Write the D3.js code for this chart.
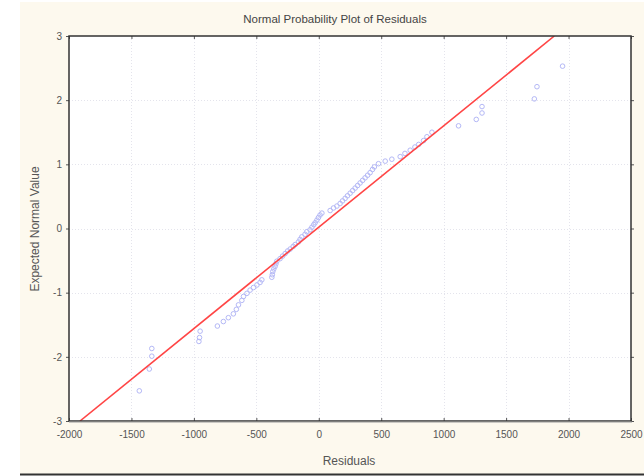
<!DOCTYPE html>
<html><head><meta charset="utf-8">
<script src="https://cdn.jsdelivr.net/npm/d3@7"></script>
<style>body{margin:0;background:#fff;}svg{display:block;}</style>
</head><body>
<svg id="c" width="644" height="476"></svg>
<script>
const residuals = [-1437,-1357,-1337,-1337,-960,-955,-950,-812,-764,-724,-684,-660,-643,-616,-603,-575,-550,-523,-495,-470,-456,-376,-372,-368,-360,-350,-343,-336,-310,-290,-269,-249,-229,-205,-189,-163,-150,-136,-110,-96,-70,-55,-40,-29,-15,-3,10,25,91,118,145,171,190,211,230,251,271,291,311,331,351,371,391,411,430,445,478,532,585,652,690,732,770,800,839,866,906,1119,1261,1307,1307,1726,1747,1952];
const expected = [-2.53,-2.19,-1.99,-1.87,-1.76,-1.70,-1.60,-1.52,-1.45,-1.39,-1.33,-1.26,-1.19,-1.12,-1.06,-1.01,-0.96,-0.92,-0.88,-0.84,-0.80,-0.76,-0.72,-0.67,-0.63,-0.59,-0.55,-0.51,-0.47,-0.43,-0.39,-0.35,-0.32,-0.28,-0.25,-0.21,-0.17,-0.13,-0.09,-0.05,-0.02,0.02,0.06,0.09,0.13,0.17,0.21,0.24,0.28,0.32,0.35,0.39,0.43,0.47,0.51,0.55,0.59,0.63,0.67,0.71,0.75,0.79,0.83,0.87,0.92,0.96,1.01,1.05,1.08,1.12,1.17,1.22,1.27,1.31,1.37,1.43,1.50,1.60,1.70,1.80,1.90,2.02,2.21,2.53];
const fitX = [-1912, 1886];
const fitY = [-3, 3];
const xTicks = [-2000,-1500,-1000,-500,0,500,1000,1500,2000,2500];
const yTicks = [-3,-2,-1,0,1,2,3];
const title = "Normal Probability Plot of Residuals";
const xLabel = "Residuals";
const yLabel = "Expected Normal Value";

const svg = d3.select("#c");
const L = 69, R = 631, T = 36, B = 421;
const font = "Liberation Sans, Arial, sans-serif";

// background panel
svg.append("rect").attr("x",20).attr("y",2).attr("width",624).attr("height",472).attr("fill","#fdf9ee");
svg.append("line").attr("x1",20).attr("x2",644).attr("y1",474.5).attr("y2",474.5).attr("stroke","#333").attr("stroke-width",2);

const x = d3.scaleLinear().domain([-2000,2500]).range([L,R]);
const y = d3.scaleLinear().domain([-3,3]).range([B,T]);

svg.append("rect").attr("x",L).attr("y",T).attr("width",R-L).attr("height",B-T).attr("fill","#fff");

// grid
const g = svg.append("g");
g.selectAll(".gx").data(xTicks.slice(1,-1)).join("line")
  .attr("x1",d=>Math.round(x(d))+0.5).attr("x2",d=>Math.round(x(d))+0.5).attr("y1",T).attr("y2",B)
  .attr("stroke","#e4e4ec").attr("stroke-dasharray","1,2").attr("stroke-width",1);
g.selectAll(".gy").data(yTicks.slice(1,-1)).join("line")
  .attr("y1",d=>Math.round(y(d))+0.5).attr("y2",d=>Math.round(y(d))+0.5).attr("x1",L).attr("x2",R)
  .attr("stroke","#e4e4ec").attr("stroke-dasharray","1,2").attr("stroke-width",1);

// axes using d3 axis generators
const fmt = d => String(d);
const ax = svg.append("g").attr("transform",`translate(0,${B})`)
  .call(d3.axisBottom(x).tickValues(xTicks).tickSize(-3).tickPadding(10).tickFormat(fmt));
const axT = svg.append("g").attr("transform",`translate(0,${T})`)
  .call(d3.axisTop(x).tickValues(xTicks).tickSize(-3).tickFormat(""));
const ay = svg.append("g").attr("transform",`translate(${L},0)`)
  .call(d3.axisLeft(y).tickValues(yTicks).tickSize(3).tickPadding(4).tickFormat(fmt));
const ayR = svg.append("g").attr("transform",`translate(${R},0)`)
  .call(d3.axisRight(y).tickValues(yTicks).tickSize(3).tickFormat(""));
[ax,axT,ay,ayR].forEach(a=>{
  a.select(".domain").remove();
  a.selectAll(".tick line").attr("stroke","#555");
  a.selectAll("text").attr("fill","#555").attr("font-family",font).attr("font-size",10);
});
ay.selectAll(".tick text").attr("dy","0.32em");

// clip
svg.append("clipPath").attr("id","cp").append("rect").attr("x",L).attr("y",T).attr("width",R-L).attr("height",B-T);

// points
const pts = residuals.map((r,i)=>({r, e: expected[i]}));
svg.append("g").attr("clip-path","url(#cp)").selectAll("circle").data(pts).join("circle")
  .attr("cx",d=>x(d.r)).attr("cy",d=>y(d.e)).attr("r",2.3)
  .attr("fill","none").attr("stroke","#b4b8f6").attr("stroke-width",1);

// fit line
svg.append("g").attr("clip-path","url(#cp)").append("line")
  .attr("x1",x(fitX[0])).attr("y1",y(fitY[0])).attr("x2",x(fitX[1])).attr("y2",y(fitY[1]))
  .attr("stroke","#ff4545").attr("stroke-width",1.6);

// frame
svg.append("rect").attr("x",L).attr("y",T).attr("width",R-L).attr("height",B-T)
  .attr("fill","none").attr("stroke","#333").attr("stroke-width",1.5);
svg.append("line").attr("x1",L).attr("x2",R+1).attr("y1",B+1).attr("y2",B+1).attr("stroke","#999").attr("stroke-width",1);

// labels
svg.append("text").attr("x",335).attr("y",23).attr("text-anchor","middle")
  .attr("font-family",font).attr("font-size",11.5).attr("fill","#444").text(title);
svg.append("text").attr("x",349).attr("y",465).attr("text-anchor","middle")
  .attr("font-family",font).attr("font-size",12).attr("fill","#555").text(xLabel);
svg.append("text").attr("transform","translate(39,229) rotate(-90)").attr("text-anchor","middle")
  .attr("font-family",font).attr("font-size",12).attr("fill","#555").text(yLabel);
</script>
</body></html>
